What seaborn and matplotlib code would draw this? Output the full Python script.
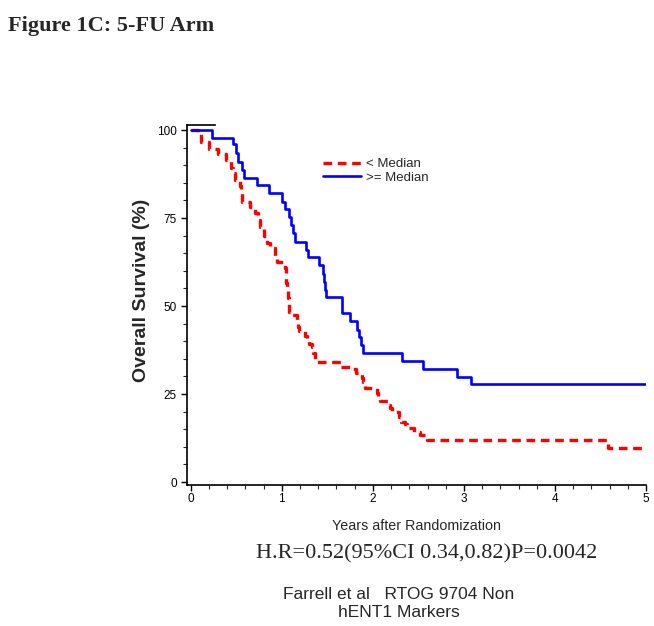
import numpy as np
import pandas as pd
import matplotlib
matplotlib.use('Agg')
import matplotlib.pyplot as plt
from matplotlib.ticker import MultipleLocator
import seaborn as sns

# Kaplan-Meier step points (years, % surviving)
low_time = [0, 0.08, 0.11, 0.20, 0.30, 0.39, 0.44, 0.46, 0.49, 0.54, 0.55, 0.56,
            0.65, 0.71, 0.74, 0.76, 0.80, 0.84, 0.87, 0.93, 0.945, 1.035, 1.045,
            1.05, 1.06, 1.07, 1.075, 1.08, 1.11, 1.17, 1.175, 1.19, 1.255, 1.275,
            1.30, 1.33, 1.34, 1.365, 1.645, 1.785, 1.815, 1.88, 1.895, 1.915, 2.04,
            2.06, 2.08, 2.17, 2.19, 2.205, 2.29, 2.31, 2.35, 2.37, 2.455, 2.52, 2.59,
            4.585, 5.0]
low_surv = [100, 98.9, 96.5, 94.5, 93.2, 91.5, 89.2, 87.8, 85.8, 84.1, 82.4, 79.6,
            78.0, 76.4, 74.4, 72.4, 69.9, 67.9, 66.4, 64.2, 62.5, 60.8, 58.8,
            56.5, 54.5, 52.4, 50.3, 48.4, 47.4, 46.0, 44.1, 42.9, 41.5, 40.3,
            39.3, 38.4, 36.6, 34.2, 32.8, 32.1, 31.0, 29.5, 28.5, 26.6, 25.3,
            23.9, 23.0, 21.9, 21.0, 19.9, 18.6, 17.1, 16.5, 15.3, 14.3, 13.4, 11.9,
            9.7, 9.7]

high_time = [0, 0.23, 0.46, 0.50, 0.52, 0.56, 0.585, 0.73, 0.86, 1.005, 1.03, 1.08,
             1.10, 1.12, 1.145, 1.265, 1.285, 1.41, 1.45, 1.46, 1.47, 1.48, 1.66,
             1.75, 1.83, 1.85, 1.87, 1.895, 2.32, 2.55, 2.92, 3.08, 5.0]
high_surv = [100, 97.8, 95.9, 93.4, 91.0, 88.6, 86.4, 84.3, 82.0, 79.6, 77.5, 75.2,
             73.0, 70.7, 68.3, 65.9, 63.8, 61.6, 59.1, 56.8, 54.5, 52.5, 47.9,
             45.7, 43.2, 41.3, 38.9, 36.6, 34.4, 32.0, 29.9, 27.8, 27.8]

groups = ['< Median', '>= Median']

df = pd.concat([
    pd.DataFrame({'time': low_time, 'surv': low_surv, 'group': groups[0]}),
    pd.DataFrame({'time': high_time, 'surv': high_surv, 'group': groups[1]}),
])

sns.set_style('ticks')
plt.rcParams['font.family'] = ['Liberation Sans', 'DejaVu Sans']

fig = plt.figure(figsize=(6.54, 6.26), dpi=100)
ax = fig.add_axes([0.286, 0.2252, 0.702, 0.575])

sns.lineplot(data=df[df.group == groups[0]], x='time', y='surv', color='#ff0000',
             lw=2.4, dashes=(2.6, 1.7), drawstyle='steps-post', estimator=None,
             label=groups[0], ax=ax)
sns.lineplot(data=df[df.group == groups[1]], x='time', y='surv', color='#0000ff',
             lw=1.9, drawstyle='steps-post', estimator=None,
             label=groups[1], ax=ax)

ax.set_xlim(-0.04, 5.0)
ax.set_ylim(-0.85, 101.4)
ax.set_xticks([0, 1, 2, 3, 4, 5])
ax.set_yticks([0, 25, 50, 75, 100])
ax.xaxis.set_minor_locator(MultipleLocator(0.2))
ax.yaxis.set_minor_locator(MultipleLocator(5))
ax.tick_params(which='major', length=4, width=1, labelsize=8.5, colors='black')
ax.tick_params(axis='x', which='major', pad=1.5)
ax.tick_params(which='minor', length=3, width=0.8)
ax.spines['right'].set_visible(False)
ax.spines['top'].set_bounds(-0.04, 0.27)
for s in ['left', 'bottom', 'top']:
    ax.spines[s].set_linewidth(1.2)
    ax.spines[s].set_color('black')

ax.set_xlabel('Years after Randomization', fontsize=10.3, labelpad=10)
ax.set_ylabel('Overall Survival (%)', fontsize=14, fontweight='bold')
ax.yaxis.set_label_coords(-0.081, 0.54)

leg = ax.legend(loc='upper left', bbox_to_anchor=(0.285, 0.923), frameon=False,
                fontsize=9.5, handlelength=2.9, handletextpad=0.35,
                labelspacing=0.1, borderaxespad=0)

fig.text(0.012, 0.975, 'Figure 1C: 5-FU Arm', family='Liberation Serif',
         fontsize=16, fontweight='bold', va='top', ha='left')
fig.text(0.652, 0.116, 'H.R=0.52(95%CI 0.34,0.82)P=0.0042', family='Liberation Serif',
         fontsize=16, ha='center', va='center')
fig.text(0.61, 0.036, 'Farrell et al   RTOG 9704 Non\nhENT1 Markers',
         fontsize=12.5, ha='center', va='center', linespacing=1.2)

fig.savefig('out.png', dpi=100)
